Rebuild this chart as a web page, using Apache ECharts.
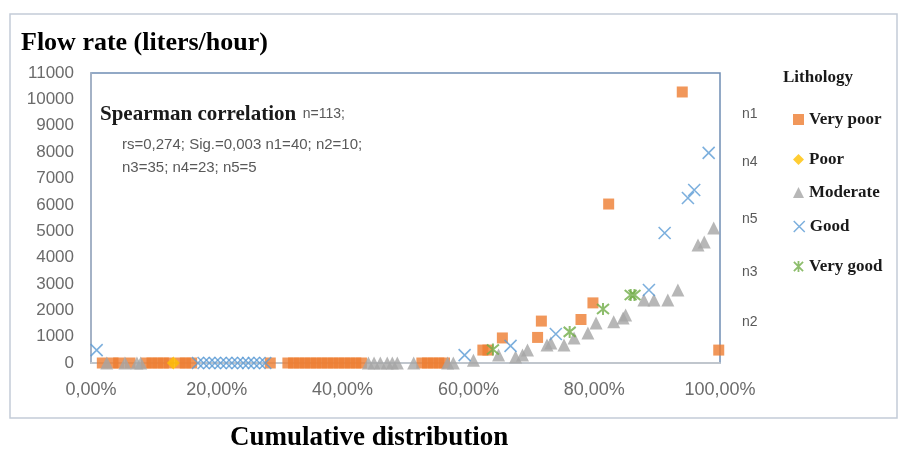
<!DOCTYPE html>
<html>
<head>
<meta charset="utf-8">
<script src="https://cdn.jsdelivr.net/npm/echarts@6/dist/echarts.min.js"></script>
<style>
  html, body { margin: 0; padding: 0; background: #fff; }
  #chart { width: 912px; height: 452px; }
</style>
</head>
<body>
<div id="chart"></div>
<script>
// x = cumulative distribution (%), y = flow rate (liters/hour)
const veryPoorX = [1.8, 3.5, 4.4, 6.2, 8.8, 9.7, 10.6, 11.5, 12.4, 14.2, 15.0, 16.0, 28.5,
  31.3, 32.2, 33.1, 34.0, 34.9, 35.8, 36.7, 37.6, 38.5, 39.4, 40.3, 41.2, 42.1, 43.0,
  52.6, 53.5, 54.4, 55.3, 56.2,
  62.3, 63.1, 65.4, 71.0, 71.6, 77.9, 79.8, 82.3, 94.0, 99.8]
const veryPoorY = [0, 0, 0, 0, 0, 0, 0, 0, 0, 0, 0, 0, 0,
  0, 0, 0, 0, 0, 0, 0, 0, 0, 0, 0, 0, 0, 0,
  0, 0, 0, 0, 0,
  490, 490, 950, 970, 1590, 1650, 2280, 6030, 10280, 490]

const poorX = [13.1]
const poorY = [0]

const moderateX = [2.5, 5.4, 7.3, 7.9, 44.1, 45.0, 46.0, 47.1, 47.9, 48.7, 51.3, 56.7, 57.6, 60.8,
  64.8, 67.5, 68.6, 69.4, 72.5, 73.1, 75.2, 76.8, 79.0, 80.3, 83.1, 84.6, 85.0,
  87.9, 89.5, 91.7, 93.3, 96.5, 97.5, 99.0]
const moderateY = [0, 0, 0, 0, 0, 0, 0, 0, 0, 0, 0, 0, 0, 100,
  300, 230, 300, 490, 680, 760, 680, 950, 1140, 1520, 1560, 1710, 1820,
  2390, 2390, 2390, 2770, 4480, 4590, 5120]

const goodX = [0.9, 17.0, 17.9, 18.8, 19.7, 20.6, 21.5, 22.4, 23.3, 24.2, 25.0, 25.9, 26.8, 27.7,
  59.4, 66.7, 73.9, 88.7, 91.2, 94.9, 95.9, 98.2]
const goodY = [490, 0, 0, 0, 0, 0, 0, 0, 0, 0, 0, 0, 0, 0,
  300, 650, 1100, 2770, 4930, 6260, 6560, 7970]

const veryGoodX = [63.9, 76.1, 81.4, 85.8, 86.4]
const veryGoodY = [510, 1180, 2050, 2580, 2580]

const legendNames = ['Very poor', 'Poor', 'Moderate', 'Good', 'Very good']
const legendTops = [106, 146, 179, 213, 253]
const nLabels = ['n1', 'n4', 'n5', 'n3', 'n2']
const nLabelTops = [115, 163, 220, 273, 323]

const zip = (xs, ys) => xs.map((x, i) => [x, ys[i]])

const crossPath = 'path://M0,0L10,10M10,0L0,10'
const starPath = 'path://M0,0L10,10M10,0L0,10M5,-1L5,11'

const serif = '"Liberation Serif", "Times New Roman", serif'
const sans = '"Liberation Sans", Arial, sans-serif'

const colors = {
  'Very poor': '#ed7d31',
  'Poor': '#ffc000',
  'Moderate': '#a5a5a5',
  'Good': '#5b9bd5',
  'Very good': '#70ad47'
}

const icons = {
  'Very poor': { icon: 'rect', itemStyle: { color: colors['Very poor'] } },
  'Poor': { icon: 'diamond', itemStyle: { color: colors['Poor'] } },
  'Moderate': { icon: 'triangle', itemStyle: { color: colors['Moderate'] } },
  'Good': { icon: crossPath, itemStyle: { color: 'rgba(0,0,0,0)', borderColor: colors['Good'], borderWidth: 1.5 } },
  'Very good': { icon: starPath, itemStyle: { color: 'rgba(0,0,0,0)', borderColor: colors['Very good'], borderWidth: 1.8 } }
}

const myChart = echarts.init(document.getElementById('chart'))

const option = {
  backgroundColor: '#fff',
  animation: false,
  grid: {
    left: 91,
    top: 73,
    right: 192,
    bottom: 89,
    show: true,
    borderColor: '#6f8db4',
    borderWidth: 1.5
  },
  xAxis: {
    type: 'value',
    min: 0,
    max: 100,
    interval: 20,
    axisLine: { show: true, onZero: false, lineStyle: { color: '#cfcfcf', width: 1.5 } },
    axisTick: { show: false },
    splitLine: { show: false },
    axisLabel: {
      margin: 18,
      fontFamily: sans,
      fontSize: 18,
      color: '#6b6b6b',
      formatter: v => v.toFixed(2).replace('.', ',') + '%'
    }
  },
  yAxis: {
    type: 'value',
    min: 0,
    max: 11000,
    interval: 1000,
    axisLine: { show: true, lineStyle: { color: '#aab6c6', width: 1.5 } },
    axisTick: { show: false },
    splitLine: { show: false },
    axisLabel: {
      margin: 17,
      fontFamily: sans,
      fontSize: 17,
      color: '#6b6b6b',
      formatter: v => String(v)
    }
  },
  /* one legend per item so each row sits where the reference puts it */
  legend: legendNames.map((name, i) => ({
    data: [Object.assign({ name: name }, icons[name])],
    left: 788,
    top: legendTops[i],
    itemWidth: 11,
    itemHeight: 11,
    selectedMode: false,
    textStyle: { fontFamily: serif, fontWeight: 'bold', fontSize: 17, color: '#1a1a1a' }
  })),
  graphic: [
    {
      type: 'rect',
      shape: { x: 10, y: 14, width: 887, height: 404 },
      style: { fill: 'none', stroke: '#c3ccd8', lineWidth: 1.5 },
      silent: true
    },
    {
      type: 'text', left: 21, top: 30,
      style: { text: 'Flow rate (liters/hour)', font: 'bold 26px ' + serif, fill: '#000' }
    },
    {
      type: 'text', left: 230, top: 425,
      style: { text: 'Cumulative distribution', font: 'bold 27px ' + serif, fill: '#000' }
    },
    {
      type: 'text', left: 783, top: 69,
      style: { text: 'Lithology', font: 'bold 17px ' + serif, fill: '#1a1a1a' }
    },
    {
      type: 'text', left: 100, top: 104,
      style: {
        text: '{b|Spearman correlation}  {s|n=113;}',
        rich: {
          b: { fontFamily: serif, fontWeight: 'bold', fontSize: 21, fill: '#1a1a1a' },
          s: { fontFamily: sans, fontSize: 14, fill: '#595959' }
        }
      }
    },
    {
      type: 'text', left: 122, top: 137,
      style: { text: 'rs=0,274; Sig.=0,003 n1=40; n2=10;', font: '15px ' + sans, fill: '#595959' }
    },
    {
      type: 'text', left: 122, top: 160,
      style: { text: 'n3=35; n4=23; n5=5', font: '15px ' + sans, fill: '#595959' }
    }
  ].concat(nLabels.map((t, i) => ({
    type: 'text', left: 742, top: nLabelTops[i] - 8,
    style: { text: t, font: '14px ' + sans, fill: '#595959' }
  }))),
  series: [
    {
      name: 'Very poor',
      type: 'scatter',
      symbol: 'rect',
      symbolSize: 11,
      itemStyle: { color: colors['Very poor'] },
      data: zip(veryPoorX, veryPoorY)
    },
    {
      name: 'Poor',
      type: 'scatter',
      symbol: 'diamond',
      symbolSize: 13,
      itemStyle: { color: colors['Poor'] },
      data: zip(poorX, poorY)
    },
    {
      name: 'Moderate',
      type: 'scatter',
      symbol: 'triangle',
      symbolSize: 13,
      itemStyle: { color: colors['Moderate'] },
      data: zip(moderateX, moderateY)
    },
    {
      name: 'Good',
      type: 'scatter',
      symbol: crossPath,
      symbolSize: 12,
      itemStyle: { color: 'rgba(0,0,0,0)', borderColor: colors['Good'], borderWidth: 1.6 },
      data: zip(goodX, goodY)
    },
    {
      name: 'Very good',
      type: 'scatter',
      symbol: starPath,
      symbolSize: 12,
      itemStyle: { color: 'rgba(0,0,0,0)', borderColor: colors['Very good'], borderWidth: 2 },
      data: zip(veryGoodX, veryGoodY)
    }
  ]
}

option && myChart.setOption(option)
</script>
</body>
</html>
